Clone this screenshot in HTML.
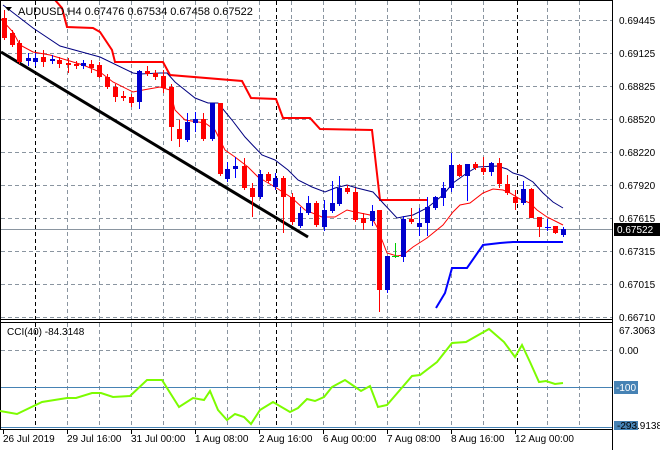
<!DOCTYPE html>
<html><head><meta charset="utf-8"><style>
body{margin:0;background:#fff;}
svg{display:block;font-family:"Liberation Sans",sans-serif;}
</style></head><body>
<svg width="660" height="450" viewBox="0 0 660 450" xmlns="http://www.w3.org/2000/svg">
<rect width="660" height="450" fill="#fff"/>
<!-- grid main -->
<g stroke="#8a95a0" stroke-dasharray="4,3" stroke-width="1">
<line x1="1" x2="612" y1="20.5" y2="20.5"/><line x1="1" x2="612" y1="53.5" y2="53.5"/><line x1="1" x2="612" y1="86.5" y2="86.5"/><line x1="1" x2="612" y1="119.5" y2="119.5"/><line x1="1" x2="612" y1="152.5" y2="152.5"/><line x1="1" x2="612" y1="185.5" y2="185.5"/><line x1="1" x2="612" y1="218.5" y2="218.5"/><line x1="1" x2="612" y1="251.5" y2="251.5"/><line x1="1" x2="612" y1="284.5" y2="284.5"/><line x1="1" x2="612" y1="317.5" y2="317.5"/>
<line x1="1" x2="612" y1="350.5" y2="350.5"/>
</g>
<g stroke="#8a95a0" stroke-dasharray="4,3">
<line x1="67.5" x2="67.5" y1="1" y2="428"/><line x1="99.5" x2="99.5" y1="1" y2="428"/><line x1="131.5" x2="131.5" y1="1" y2="428"/><line x1="163.5" x2="163.5" y1="1" y2="428"/><line x1="195.5" x2="195.5" y1="1" y2="428"/><line x1="227.5" x2="227.5" y1="1" y2="428"/><line x1="259.5" x2="259.5" y1="1" y2="428"/><line x1="291.5" x2="291.5" y1="1" y2="428"/><line x1="323.5" x2="323.5" y1="1" y2="428"/><line x1="355.5" x2="355.5" y1="1" y2="428"/><line x1="387.5" x2="387.5" y1="1" y2="428"/><line x1="419.5" x2="419.5" y1="1" y2="428"/><line x1="451.5" x2="451.5" y1="1" y2="428"/><line x1="483.5" x2="483.5" y1="1" y2="428"/><line x1="547.5" x2="547.5" y1="1" y2="428"/><line x1="579.5" x2="579.5" y1="1" y2="428"/>
</g>
<g stroke="#000" stroke-dasharray="4,3">
<line x1="35.5" x2="35.5" y1="1" y2="428"/><line x1="276.5" x2="276.5" y1="1" y2="428"/><line x1="517.5" x2="517.5" y1="1" y2="428"/>
</g>
<!-- price line -->
<line x1="1" x2="612" y1="229.5" y2="229.5" stroke="#8a95a0"/>
<!-- trendline -->
<line x1="1" y1="52" x2="308" y2="237" stroke="#000" stroke-width="3"/>
<!-- thick red step -->
<polyline fill="none" stroke="#ff0000" stroke-width="2" points="55,0 62,8 67,27 93,28 100,32 112,50 115,62 163,62 170,75 242,81 251,98 276,99 283,118 310,118 320,129 372,130 380,200 427,200"/>
<!-- thick blue lower -->
<polyline fill="none" stroke="#0000ff" stroke-width="2" points="436,308 445,293 452,268 467,268 483,245 500,243 513,242 563,242"/>
<!-- navy MA -->
<polyline fill="none" stroke="#000080" stroke-width="1" points="3,5 7,8 20,18 33,28 60,46 100,57 133,73 140,74 160,73 167,73 175,82 195,98 208,103 218,103 232,120 245,137 262,155 275,160 288,170 298,180 312,187 325,192 335,188 347,185 357,188 373,192 383,203 397,218 402,217 413,215 427,208 443,195 453,183 467,173 477,167 497,166 507,169 513,173 523,176 533,182 543,193 553,202 563,208"/>
<!-- red MA -->
<polyline fill="none" stroke="#ff0000" stroke-width="1" points="0,18 13,32 20,45 33,52 50,55 83,65 100,72 113,82 133,92 143,90 160,87 170,90 175,110 185,120 205,123 215,130 225,150 235,157 248,167 258,177 275,187 292,198 305,210 322,217 335,217 347,210 355,212 370,215 377,227 387,253 397,256 403,255 413,247 427,238 443,225 453,212 460,205 470,203 483,193 493,189 503,190 510,193 520,199 530,203 537,210 547,217 563,225"/>
<!-- candles -->
<g id="c"></g>
<!-- axes -->
<line x1="612.5" x2="612.5" y1="0" y2="450" stroke="#000"/>
<line x1="0" x2="612" y1="319.5" y2="319.5" stroke="#000"/>
<line x1="0" x2="612" y1="0.5" y2="0.5" stroke="#000"/>
<line x1="0.5" x2="0.5" y1="0" y2="430" stroke="#000"/>
<line x1="0" x2="612" y1="429.5" y2="429.5" stroke="#000"/>
<line x1="0" x2="612" y1="322.5" y2="322.5" stroke="#000"/>
<!-- CCI -->
<line x1="1" x2="612" y1="387.5" y2="387.5" stroke="#4682b4"/>
<line x1="1" x2="612" y1="427.5" y2="427.5" stroke="#4682b4"/>
<polyline fill="none" stroke="#7cfc00" stroke-width="2" points="0,411 17,414 42,402 67,398 76,398 92,393 101,393 113,397 130,396 147,380 162,380 179,407 193,398 204,400 210,391 218,410 227,420 235,414 244,417 251,424 260,410 273,402 290,412 298,408 307,399 315,401 324,397 332,387 345,380 361,391 370,386 378,407 387,405 412,376 420,375 437,362 452,343 466,342 489,329 504,342 515,357 522,345 530,362 539,382 546,381 555,384 563,383"/>
<!-- texts -->
<polygon points="5,7 12,7 8.5,11" fill="#000"/>
<text x="18" y="15" font-size="11" fill="#000">AUDUSD,H4  0.67476 0.67534 0.67458 0.67522</text>
<text x="7" y="335" font-size="10" fill="#000">CCI(40) -84.3148</text>
<g font-size="10" fill="#000">
<text x="619" y="24">0.69445</text><text x="619" y="57">0.69125</text><text x="619" y="90">0.68825</text><text x="619" y="123">0.68520</text><text x="619" y="156">0.68220</text><text x="619" y="189">0.67920</text><text x="619" y="222">0.67615</text><text x="619" y="255">0.67315</text><text x="619" y="288">0.67015</text><text x="619" y="321">0.66710</text>
<text x="619" y="334">67.3063</text><text x="619" y="354">0.00</text>
</g>
<rect x="614" y="223" width="46" height="13" fill="#000"/>
<text x="617" y="233" font-size="10" fill="#fff">0.67522</text>
<rect x="614" y="381" width="24" height="13" fill="#4682b4"/>
<text x="616" y="391" font-size="10" fill="#fff">-100</text>
<rect x="614" y="421" width="24" height="9" fill="#4682b4"/>
<text x="617" y="429" font-size="10" fill="#000">-293.9138</text>
<g font-size="10" fill="#000">
<text x="3" y="442">26 Jul 2019</text><text x="67" y="442">29 Jul 16:00</text><text x="131" y="442">31 Jul 00:00</text><text x="195" y="442">1 Aug 08:00</text><text x="259" y="442">2 Aug 16:00</text><text x="323" y="442">6 Aug 00:00</text><text x="387" y="442">7 Aug 08:00</text><text x="451" y="442">8 Aug 16:00</text><text x="515" y="442">12 Aug 00:00</text>
</g>
<g stroke="#000"><line x1="3.5" x2="3.5" y1="430" y2="434"/><line x1="67.5" x2="67.5" y1="430" y2="434"/><line x1="131.5" x2="131.5" y1="430" y2="434"/><line x1="195.5" x2="195.5" y1="430" y2="434"/><line x1="259.5" x2="259.5" y1="430" y2="434"/><line x1="323.5" x2="323.5" y1="430" y2="434"/><line x1="387.5" x2="387.5" y1="430" y2="434"/><line x1="451.5" x2="451.5" y1="430" y2="434"/><line x1="515.5" x2="515.5" y1="430" y2="434"/></g>
<g>
<!-- x color bodyTop bodyBot wickTop wickBot -->
<line x1="4.5" x2="4.5" y1="10" y2="40" stroke="#f00"/><rect x="2" y="18" width="5" height="20" fill="#f00"/>
<line x1="12.5" x2="12.5" y1="30" y2="47" stroke="#f00"/><rect x="10" y="33" width="5" height="12" fill="#f00"/>
<line x1="19.5" x2="19.5" y1="40" y2="64" stroke="#f00"/><rect x="17" y="43" width="5" height="19" fill="#f00"/>
<line x1="28.5" x2="28.5" y1="53" y2="66" stroke="#00f"/><rect x="26" y="58" width="5" height="3" fill="#00c"/>
<line x1="35.5" x2="35.5" y1="53" y2="66" stroke="#00f"/><rect x="33" y="58" width="5" height="4" fill="#00c"/>
<line x1="43.5" x2="43.5" y1="50" y2="67" stroke="#f00"/><rect x="41" y="57" width="5" height="5" fill="#f00"/>
<line x1="52.5" x2="52.5" y1="55" y2="64" stroke="#00f"/><rect x="50" y="59" width="5" height="2" fill="#00c"/>
<line x1="59.5" x2="59.5" y1="57" y2="68" stroke="#f00"/><rect x="57" y="60" width="5" height="4" fill="#f00"/>
<line x1="68.5" x2="68.5" y1="58" y2="73" stroke="#f00"/><rect x="66" y="63" width="5" height="2" fill="#f00"/>
<line x1="76.5" x2="76.5" y1="61" y2="69" stroke="#f00"/><rect x="74" y="64" width="5" height="2" fill="#f00"/>
<line x1="83.5" x2="83.5" y1="60" y2="69" stroke="#00f"/><rect x="81" y="63" width="5" height="3" fill="#00c"/>
<line x1="91.5" x2="91.5" y1="60" y2="73" stroke="#f00"/><rect x="89" y="64" width="5" height="4" fill="#f00"/>
<line x1="99.5" x2="99.5" y1="62" y2="78" stroke="#f00"/><rect x="97" y="65" width="5" height="12" fill="#f00"/>
<line x1="107.5" x2="107.5" y1="74" y2="89" stroke="#f00"/><rect x="105" y="77" width="5" height="10" fill="#f00"/>
<line x1="115.5" x2="115.5" y1="84" y2="102" stroke="#f00"/><rect x="113" y="87" width="5" height="10" fill="#f00"/>
<line x1="123.5" x2="123.5" y1="91" y2="101" stroke="#f00"/><rect x="121" y="96" width="5" height="2" fill="#f00"/>
<line x1="131.5" x2="131.5" y1="94" y2="107" stroke="#f00"/><rect x="129" y="97" width="5" height="6" fill="#f00"/>
<line x1="139.5" x2="139.5" y1="70" y2="109" stroke="#00f"/><rect x="137" y="71" width="5" height="31" fill="#00c"/>
<line x1="147.5" x2="147.5" y1="66" y2="76" stroke="#f00"/><rect x="145" y="71" width="5" height="3" fill="#f00"/>
<line x1="155.5" x2="155.5" y1="70" y2="80" stroke="#f00"/><rect x="153" y="73" width="5" height="4" fill="#f00"/>
<line x1="163.5" x2="163.5" y1="70" y2="93" stroke="#f00"/><rect x="161" y="76" width="5" height="12" fill="#f00"/>
<line x1="171.5" x2="171.5" y1="84" y2="141" stroke="#f00"/><rect x="169" y="87" width="5" height="40" fill="#f00"/>
<line x1="179.5" x2="179.5" y1="120" y2="147" stroke="#f00"/><rect x="177" y="129" width="5" height="10" fill="#f00"/>
<line x1="187.5" x2="187.5" y1="113" y2="142" stroke="#00f"/><rect x="185" y="122" width="5" height="18" fill="#00c"/>
<line x1="195.5" x2="195.5" y1="112" y2="132" stroke="#00f"/><rect x="193" y="119" width="5" height="4" fill="#00c"/>
<line x1="203.5" x2="203.5" y1="113" y2="141" stroke="#f00"/><rect x="201" y="119" width="5" height="20" fill="#f00"/>
<line x1="212.5" x2="212.5" y1="103" y2="141" stroke="#00f"/><rect x="210" y="103" width="5" height="36" fill="#00c"/>
<line x1="220.5" x2="220.5" y1="103" y2="176" stroke="#f00"/><rect x="218" y="103" width="5" height="71" fill="#f00"/>
<line x1="227.5" x2="227.5" y1="162" y2="182" stroke="#00f"/><rect x="225" y="169" width="5" height="10" fill="#00c"/>
<line x1="235.5" x2="235.5" y1="157" y2="178" stroke="#00f"/><rect x="233" y="166" width="5" height="3" fill="#00c"/>
<line x1="244.5" x2="244.5" y1="158" y2="190" stroke="#f00"/><rect x="242" y="166" width="5" height="22" fill="#f00"/>
<line x1="252.5" x2="252.5" y1="183" y2="217" stroke="#f00"/><rect x="250" y="188" width="5" height="9" fill="#f00"/>
<line x1="260.5" x2="260.5" y1="170" y2="199" stroke="#00f"/><rect x="258" y="174" width="5" height="23" fill="#00c"/>
<line x1="268.5" x2="268.5" y1="172" y2="183" stroke="#f00"/><rect x="266" y="174" width="5" height="7" fill="#f00"/>
<line x1="275.5" x2="275.5" y1="173" y2="190" stroke="#00f"/><rect x="273" y="178" width="5" height="9" fill="#00c"/>
<line x1="283.5" x2="283.5" y1="176" y2="233" stroke="#f00"/><rect x="281" y="178" width="5" height="19" fill="#f00"/>
<line x1="292.5" x2="292.5" y1="193" y2="225" stroke="#f00"/><rect x="290" y="197" width="5" height="25" fill="#f00"/>
<line x1="300.5" x2="300.5" y1="207" y2="228" stroke="#00f"/><rect x="298" y="213" width="5" height="13" fill="#00c"/>
<line x1="308.5" x2="308.5" y1="196" y2="215" stroke="#00f"/><rect x="306" y="203" width="5" height="10" fill="#00c"/>
<line x1="316.5" x2="316.5" y1="201" y2="227" stroke="#f00"/><rect x="314" y="203" width="5" height="22" fill="#f00"/>
<line x1="324.5" x2="324.5" y1="200" y2="231" stroke="#00f"/><rect x="322" y="210" width="5" height="17" fill="#00c"/>
<line x1="332.5" x2="332.5" y1="181" y2="213" stroke="#00f"/><rect x="330" y="203" width="5" height="8" fill="#00c"/>
<line x1="339.5" x2="339.5" y1="176" y2="206" stroke="#00f"/><rect x="337" y="188" width="5" height="16" fill="#00c"/>
<line x1="347.5" x2="347.5" y1="185" y2="194" stroke="#f00"/><rect x="345" y="188" width="5" height="4" fill="#f00"/>
<line x1="355.5" x2="355.5" y1="188" y2="222" stroke="#f00"/><rect x="353" y="192" width="5" height="28" fill="#f00"/>
<line x1="363.5" x2="363.5" y1="213" y2="230" stroke="#f00"/><rect x="361" y="218" width="5" height="5" fill="#f00"/>
<line x1="372.5" x2="372.5" y1="205" y2="226" stroke="#00f"/><rect x="370" y="211" width="5" height="10" fill="#00c"/>
<line x1="379.5" x2="379.5" y1="210" y2="312" stroke="#f00"/><rect x="377" y="210" width="5" height="80" fill="#f00"/>
<line x1="387.5" x2="387.5" y1="256" y2="293" stroke="#00f"/><rect x="385" y="256" width="5" height="34" fill="#00c"/>
<line x1="395.5" x2="395.5" y1="243" y2="258" stroke="#0c0"/><line x1="392" x2="399" y1="256.5" y2="256.5" stroke="#0c0"/>
<line x1="403.5" x2="403.5" y1="216" y2="262" stroke="#00f"/><rect x="401" y="219" width="5" height="38" fill="#00c"/>
<line x1="411.5" x2="411.5" y1="208" y2="224" stroke="#f00"/><rect x="409" y="219" width="5" height="3" fill="#f00"/>
<line x1="419.5" x2="419.5" y1="208" y2="236" stroke="#00f"/><rect x="417" y="223" width="5" height="4" fill="#00c"/>
<line x1="427.5" x2="427.5" y1="197" y2="236" stroke="#00f"/><rect x="425" y="207" width="5" height="16" fill="#00c"/>
<line x1="435.5" x2="435.5" y1="196" y2="210" stroke="#00f"/><rect x="433" y="197" width="5" height="11" fill="#00c"/>
<line x1="443.5" x2="443.5" y1="182" y2="206" stroke="#00f"/><rect x="441" y="188" width="5" height="10" fill="#00c"/>
<line x1="451.5" x2="451.5" y1="153" y2="192" stroke="#00f"/><rect x="449" y="165" width="5" height="23" fill="#00c"/>
<line x1="459.5" x2="459.5" y1="164" y2="177" stroke="#f00"/><rect x="457" y="165" width="5" height="11" fill="#f00"/>
<line x1="467.5" x2="467.5" y1="164" y2="201" stroke="#00f"/><rect x="465" y="164" width="5" height="12" fill="#00c"/>
<line x1="475.5" x2="475.5" y1="162" y2="170" stroke="#f00"/><rect x="473" y="164" width="5" height="4" fill="#f00"/>
<line x1="483.5" x2="483.5" y1="157" y2="175" stroke="#f00"/><rect x="481" y="168" width="5" height="4" fill="#f00"/>
<line x1="491.5" x2="491.5" y1="162" y2="176" stroke="#00f"/><rect x="489" y="163" width="5" height="9" fill="#00c"/>
<line x1="499.5" x2="499.5" y1="158" y2="188" stroke="#f00"/><rect x="497" y="163" width="5" height="21" fill="#f00"/>
<line x1="507.5" x2="507.5" y1="175" y2="195" stroke="#f00"/><rect x="505" y="184" width="5" height="9" fill="#f00"/>
<line x1="515.5" x2="515.5" y1="190" y2="210" stroke="#f00"/><rect x="513" y="197" width="5" height="6" fill="#f00"/>
<line x1="523.5" x2="523.5" y1="181" y2="205" stroke="#00f"/><rect x="521" y="189" width="5" height="14" fill="#00c"/>
<line x1="531.5" x2="531.5" y1="188" y2="218" stroke="#f00"/><rect x="529" y="189" width="5" height="29" fill="#f00"/>
<line x1="539.5" x2="539.5" y1="217" y2="237" stroke="#f00"/><rect x="537" y="217" width="5" height="10" fill="#f00"/>
<line x1="547.5" x2="547.5" y1="219" y2="231" stroke="#00f"/><line x1="545" x2="551" y1="227.5" y2="227.5" stroke="#00f"/>
<line x1="555.5" x2="555.5" y1="226" y2="234" stroke="#f00"/><rect x="553" y="226" width="5" height="7" fill="#f00"/>
<line x1="563.5" x2="563.5" y1="227" y2="237" stroke="#00f"/><rect x="561" y="229" width="5" height="6" fill="#00c"/>
</g>
</svg>
</body></html>
